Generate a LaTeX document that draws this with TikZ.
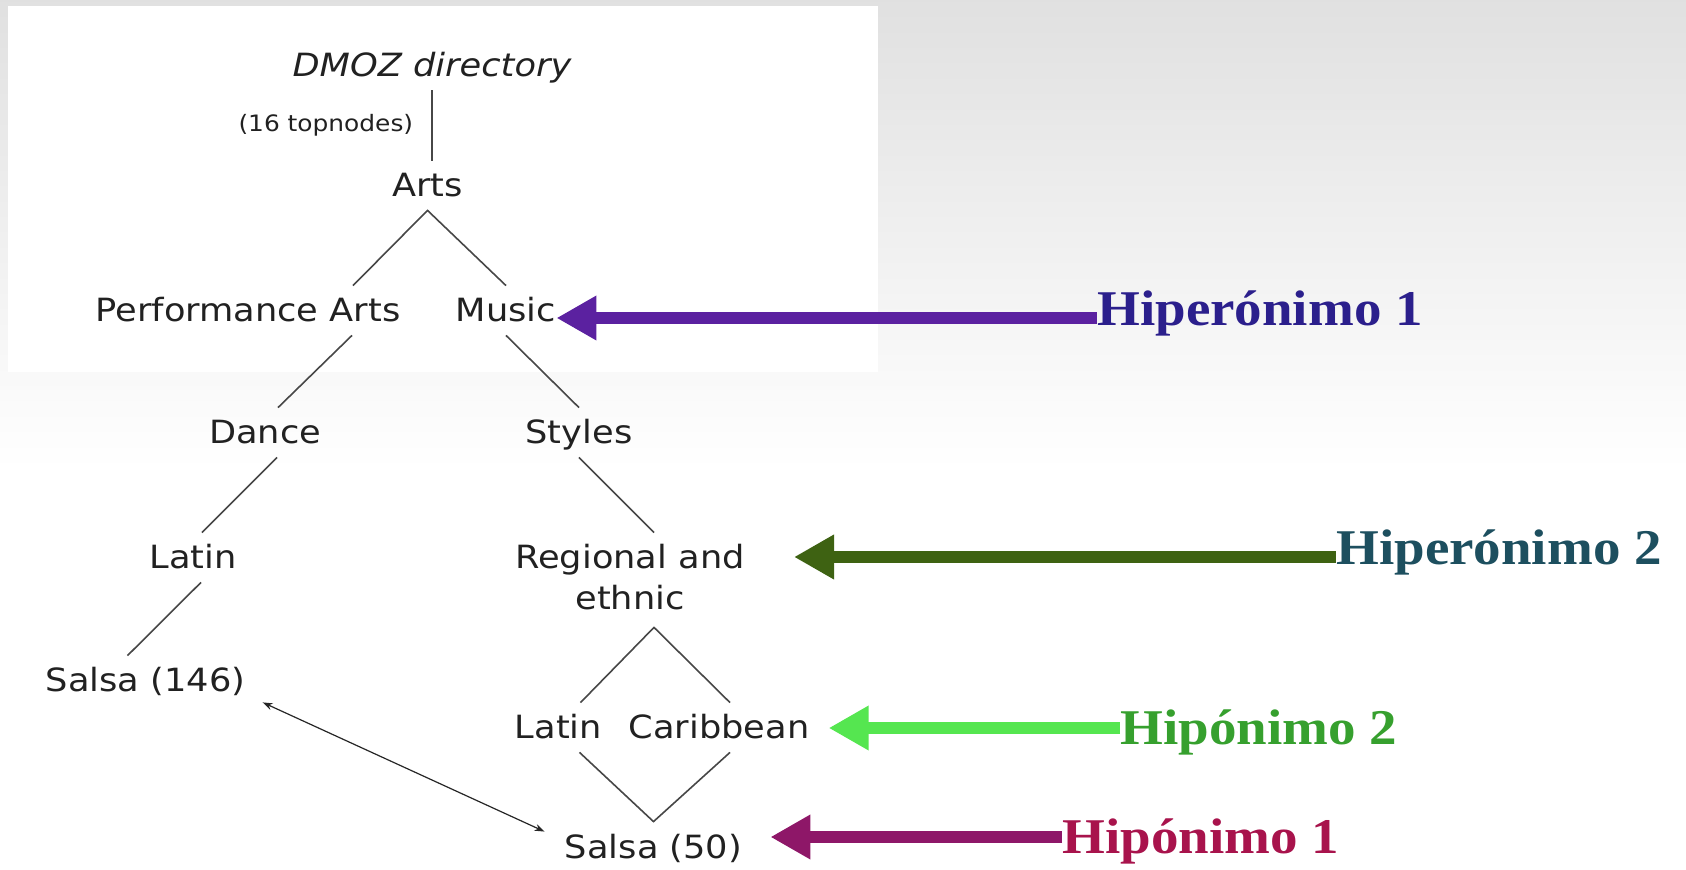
\documentclass[tikz,border=0pt]{standalone}
\usepackage{fontspec}
\usepackage{xcolor}
\usepackage{tikz}
\usetikzlibrary{arrows.meta,positioning,calc}
\newfontfamily\treefont{DejaVu Sans}[FakeStretch=1.1]
\newfontfamily\tagfont{Liberation Serif}[FakeStretch=1.1]
\definecolor{hyperA}{HTML}{5B21A0}
\definecolor{hyperAtext}{HTML}{2B1F8C}
\definecolor{hyperB}{HTML}{3E6212}
\definecolor{hyperBtext}{HTML}{1D4F5F}
\definecolor{hypoB}{HTML}{55E650}
\definecolor{hypoBtext}{HTML}{36A02E}
\definecolor{hypoA}{HTML}{8E1768}
\definecolor{hypoAtext}{HTML}{A8134C}
\tikzset{
	term/.style={anchor=base, inner xsep=0pt, inner ysep=6.5pt,
		text height=11.5pt, text depth=0pt, text=black!87,
		font=\treefont\fontsize{16}{20.5}\selectfont},
	topn/.style={inner sep=0pt, text=black!87, font=\treefont\fontsize{11.3}{13}\selectfont},
	edge/.style={draw=black!72, line width=0.8pt},
	link/.style={{Stealth[length=5pt,width=3.5pt]}-{Stealth[length=5pt,width=3.5pt]}, line width=0.6pt, black!85},
	tag/.style={anchor=west, inner sep=0pt, text height=12pt, text depth=4pt,
		font=\tagfont\bfseries\fontsize{25}{30}\selectfont},
	hypo/.style={text height=20pt}, % label sits lower on its arrow
	bigarrow/.style={-{Triangle[length=20pt,width=21pt]}, line width=6pt},
}
\begin{document}
\begin{tikzpicture}[x=0.5pt, y=-0.5pt] % one unit is one pixel
      % slide background
      \fill[white] (0,0) rectangle (1686,870);
      \shade[top color=black!12, bottom color=white] (0,0) rectangle (1686,470);
      \fill[white] (8,6) rectangle (878,372);
      \useasboundingbox (0,0) rectangle (1686,870);

      % the DMOZ tree
      \node[term] (dmoz) at (432,77) {\itshape DMOZ directory};
      \node[term] (arts) at (427.5,197) {Arts};
      \node[term] (perf) at (248,322) {Performance Arts};
      \node[term] (music) at (506,322) {Music};
      \node[term] (dance) at (265,444) {Dance};
      \node[term] (styles) at (579,444) {Styles};
      \node[term] (latin) at (193,569) {Latin};
      \node[term, align=center, text height=32pt] (regional) at (630,610) {Regional and\\ethnic}; % base is the last line
      \node[term] (salsaA) at (145.5,692) {Salsa (146)};
      \node[term] (latinB) at (558.5,739) {Latin};
      \node[term] (carib) at (719,739) {Caribbean};
      \node[term] (salsaB) at (653.5,858) {Salsa (50)};

      \draw[edge] (dmoz.south) -- (dmoz.south |- arts.north)
            node[midway, left=9pt, topn] {(16 topnodes)};
      \draw[edge] ($(perf.north)+(105,0)$) -- (arts.south) -- (music.north);
      \draw[edge] ($(perf.south)+(104,0)$) -- ($(dance.north)+(13,0)$);
      \draw[edge] (music.south) -- (styles.north);
      \draw[edge] ($(dance.south)+(12,0)$) -- ($(latin.north)+(9,0)$);
      \draw[edge] (styles.south) -- ($(regional.north)+(24,0)$);
      \draw[edge] ($(latin.south)+(8,0)$) -- ($(salsaA.north)+(-18,0)$);
      \draw[edge] ($(latinB.north)+(22,0)$) -- ($(regional.south)+(24,4)$) -- ($(carib.north)+(11,0)$);
      \draw[edge] ($(latinB.south)+(21,0)$) -- (salsaB.north) -- ($(carib.south)+(11,0)$);
      \draw[link] ($(salsaA.south east)+(17,-3)$) -- ($(salsaB.north west)+(-20,10)$);

      % hyperonyms and hyponyms
      \node[tag, text=hyperAtext] (hyper1) at (1097,318) {Hiperónimo 1};
      \node[tag, text=hyperBtext] (hyper2) at (1336,557) {Hiperónimo 2};
      \node[tag, hypo, text=hypoBtext] (hypo2) at (1120,728) {Hipónimo 2};
      \node[tag, hypo, text=hypoAtext] (hypo1) at (1062,837) {Hipónimo 1};

      \draw[bigarrow, hyperA] (hyper1.west) -- (hyper1.west -| music.east);
      \draw[bigarrow, hyperB] (hyper2.west) -- ($(hyper2.west -| regional.east)+(49,0)$);
      \draw[bigarrow, hypoB] (hypo2.west) -- ($(hypo2.west -| carib.east)+(19,0)$);
      \draw[bigarrow, hypoA] (hypo1.west) -- ($(hypo1.west -| salsaB.east)+(28,0)$);
\end{tikzpicture}
\end{document}
